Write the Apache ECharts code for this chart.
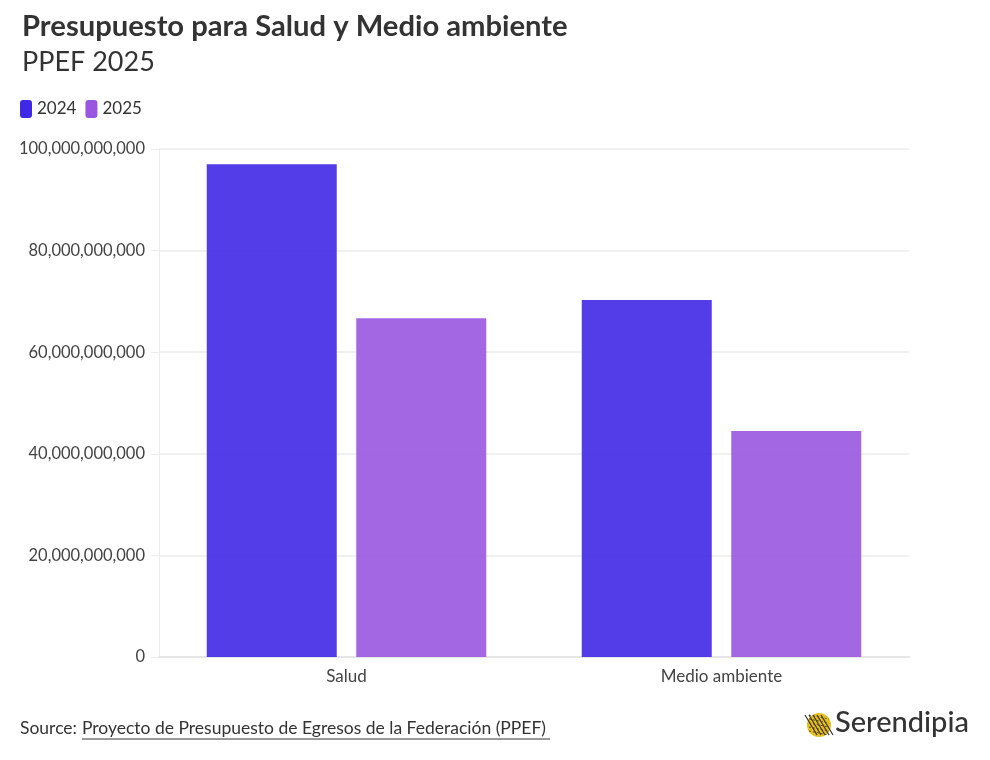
<!DOCTYPE html>
<html><head><meta charset="utf-8">
<script src="https://cdn.jsdelivr.net/npm/echarts@6/dist/echarts.min.js"></script>
<style>html,body{margin:0;padding:0;background:#fff}#c{width:990px;height:760px}</style>
</head><body><div id="c"></div>
<script>
const categories = ['Salud', 'Medio ambiente'];
const seriesNames = ['2024', '2025'];
const values2024 = [97.0e9, 70.3e9];
const values2025 = [66.7e9, 44.5e9];
const yTicks = [0, 20e9, 40e9, 60e9, 80e9, 100e9];

const FONT = 'Lato';
const chart = echarts.init(document.getElementById('c'));
const fmt = v => Number(v).toLocaleString('en-US');

// logo pattern (decorative)
const logo = [{ type: 'circle', shape: { cx: 819, cy: 725, r: 12 }, style: { fill: '#e6bf1e' } }];
for (let i = -2; i <= 2; i++) {
  logo.push({ type: 'line', shape: { x1: 813 + i * 4, y1: 715, x2: 825 + i * 4, y2: 735 },
    style: { stroke: '#3a3320', lineWidth: 1.2 }, z: 10 });
}
for (let j = -2; j <= 2; j++) {
  logo.push({ type: 'line', shape: { x1: 809, y1: 725 + j * 4 - 2, x2: 829, y2: 725 + j * 4 + 2 },
    style: { stroke: '#3a3320', lineWidth: 0.8, lineDash: [2, 2] }, z: 10 });
}

chart.setOption({
  backgroundColor: '#fff',
  textStyle: { fontFamily: FONT },
  title: [
    { text: 'Presupuesto para Salud y Medio ambiente', left: 17, top: 7,
      textStyle: { fontFamily: FONT, fontSize: 29.2, fontWeight: 'bold', color: '#333' } },
    { text: 'PPEF 2025', left: 17, top: 44,
      textStyle: { fontFamily: FONT, fontSize: 27, fontWeight: 'normal', color: '#333' } }
  ],
  legend: {
    left: 15, top: 95, itemWidth: 12, itemHeight: 18, itemGap: 9,
    icon: 'roundRect',
    textStyle: { fontFamily: FONT, fontSize: 17, color: '#333' },
    data: [
      { name: seriesNames[0], itemStyle: { color: '#3f28e6', opacity: 1 } },
      { name: seriesNames[1], itemStyle: { color: '#9a56e0', opacity: 1 } }
    ]
  },
  grid: { left: 159, right: 81, top: 149, bottom: 103 },
  xAxis: {
    type: 'category', data: categories,
    axisLine: { lineStyle: { color: '#e6e6e6', width: 2 } },
    axisTick: { alignWithLabel: true, length: 6, lineStyle: { color: '#e6e6e6' } },
    axisLabel: { fontFamily: FONT, fontSize: 17, color: '#444', margin: 11 }
  },
  yAxis: {
    type: 'value', min: yTicks[0], max: yTicks[yTicks.length - 1], interval: yTicks[1] - yTicks[0],
    axisLine: { show: true, lineStyle: { color: '#ececec', width: 1 } },
    axisTick: { show: true, length: 8, lineStyle: { color: '#ececec' } },
    splitLine: { lineStyle: { color: '#ececec', width: 1.5 } },
    axisLabel: { fontFamily: FONT, fontSize: 16.5, color: '#444', margin: 14, formatter: fmt }
  },
  series: [
    { name: seriesNames[0], type: 'bar', data: values2024, barWidth: 130, barGap: '15%',
      itemStyle: { color: '#3f28e6', opacity: 0.9 } },
    { name: seriesNames[1], type: 'bar', data: values2025, barWidth: 130, barGap: '15%',
      itemStyle: { color: '#9a56e0', opacity: 0.9 } }
  ],
  graphic: [
    { type: 'text', left: 20, top: 719,
      style: { text: 'Source: ', fontFamily: FONT, fontSize: 17.5, fill: '#333' } },
    { type: 'text', left: 82, top: 719,
      style: { text: 'Proyecto de Presupuesto de Egresos de la Federación (PPEF)', fontFamily: FONT, fontSize: 17.5, fill: '#333' } },
    { type: 'line', shape: { x1: 82, y1: 739, x2: 550, y2: 739 }, style: { stroke: '#333', lineWidth: 1 } },
    ...logo,
    { type: 'text', left: 835, top: 708,
      style: { text: 'Serendipia', fontFamily: FONT, fontSize: 29, fontWeight: 500, fill: '#333' } }
  ]
});
</script></body></html>
